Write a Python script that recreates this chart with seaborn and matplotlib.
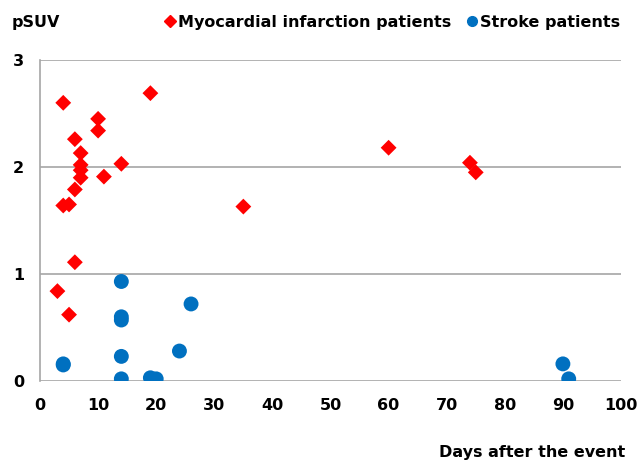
import numpy as np
import pandas as pd
import matplotlib
matplotlib.use('Agg')
import matplotlib.pyplot as plt
import seaborn as sns
from matplotlib.lines import Line2D

# Myocardial infarction patients: days after event, pSUV
mi_days = [4, 19, 10, 10, 6, 7, 7, 7, 7, 14, 11, 6, 4, 5, 6, 3, 5, 35, 60, 74, 75]
mi_psuv = [2.60, 2.69, 2.45, 2.34, 2.26, 2.13, 2.02, 1.97, 1.90, 2.03, 1.91, 1.79,
           1.64, 1.65, 1.11, 0.84, 0.62, 1.63, 2.18, 2.04, 1.95]

# Stroke patients
st_days = [14, 26, 14, 14, 24, 14, 4, 4, 14, 19, 20, 90, 91]
st_psuv = [0.93, 0.72, 0.60, 0.57, 0.28, 0.23, 0.16, 0.15, 0.02, 0.03, 0.02, 0.16, 0.02]

groups = ['Myocardial infarction patients', 'Stroke patients']

df = pd.DataFrame({
    'days': mi_days + st_days,
    'psuv': mi_psuv + st_psuv,
    'group': [groups[0]] * len(mi_days) + [groups[1]] * len(st_days),
})

sns.set_style('white')
# reference text is wide bold sans; DejaVu Sans Bold matches the widths best
plt.rcParams['font.family'] = ['DejaVu Sans']
plt.rcParams['font.weight'] = 'bold'
plt.rcParams['text.color'] = 'black'
plt.rcParams['xtick.color'] = 'black'
plt.rcParams['ytick.color'] = 'black'
fs = 11.5

fig = plt.figure(figsize=(6.4, 4.62), dpi=100)
ax = fig.add_axes([40 / 640, 1 - 381 / 462, 581 / 640, 321 / 462])

sns.scatterplot(data=df, x='days', y='psuv', hue='group', style='group',
                palette={groups[0]: '#FF0000', groups[1]: '#0070C0'},
                markers={groups[0]: 'D', groups[1]: 'o'},
                size='group', sizes={groups[0]: 65, groups[1]: 115},
                linewidth=0, ax=ax, legend=False, zorder=3)

ax.set_xlim(0, 100)
ax.set_ylim(0, 3)
ax.set_xticks(range(0, 101, 10))
ax.set_yticks([0, 1, 2, 3])
ax.yaxis.grid(True, color='#A6A6A6', linewidth=1.2)
ax.set_axisbelow(True)
for s in ['top', 'right', 'bottom']:
    ax.spines[s].set_visible(False)
ax.spines['left'].set_color('#A6A6A6')
ax.spines['left'].set_linewidth(1.2)
ax.tick_params(axis='both', length=0, labelsize=fs, labelcolor='black')
ax.tick_params(axis='x', pad=12)
ax.tick_params(axis='y', pad=11.5)
for lbl in ax.get_xticklabels() + ax.get_yticklabels():
    lbl.set_fontweight('bold')
ax.set_xlabel('')
ax.set_ylabel('')

fig.text(12 / 640, 1 - 22 / 462, 'pSUV', fontsize=fs, fontweight='bold',
         color='black', ha='left', va='center')
fig.text(625 / 640, 1 - 452 / 462, 'Days after the event', fontsize=fs,
         fontweight='bold', color='black', ha='right', va='center')

handles = [
    Line2D([], [], marker='D', linestyle='', color='#FF0000', markersize=6),
    Line2D([], [], marker='o', linestyle='', color='#0070C0', markersize=7),
]
fig.legend(handles, groups, loc='center right', bbox_to_anchor=(628 / 640, 1 - 22 / 462),
           ncol=2, frameon=False, handletextpad=0.0, columnspacing=0.8,
           handlelength=1.0, borderpad=0.0, labelcolor='black',
           prop={'size': fs, 'weight': 'bold'})

fig.savefig('out.png', dpi=100)
